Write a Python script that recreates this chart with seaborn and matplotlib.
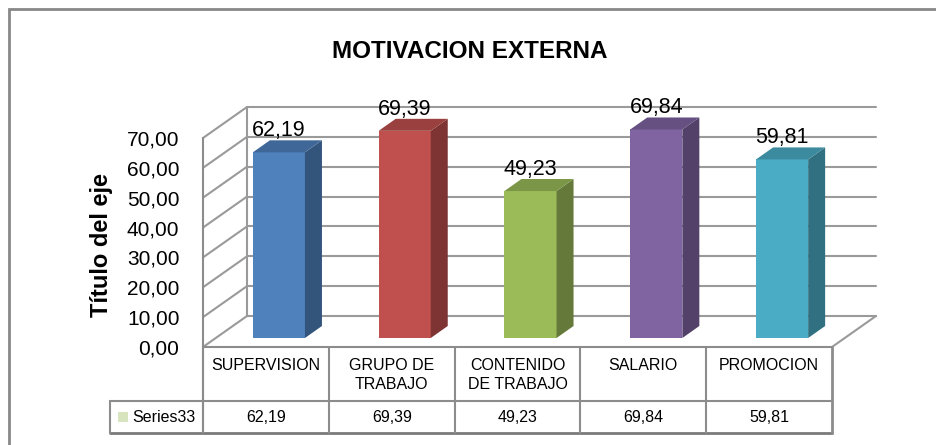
import numpy as np
import pandas as pd
import matplotlib
matplotlib.use("Agg")
import matplotlib.pyplot as plt
import seaborn as sns
from matplotlib.patches import Polygon, Rectangle
from matplotlib.lines import Line2D
import matplotlib.transforms as mtrans

# ---------------- data ----------------
categories = ["SUPERVISION", "GRUPO DE\nTRABAJO", "CONTENIDO\nDE TRABAJO", "SALARIO", "PROMOCION"]
values = [62.19, 69.39, 49.23, 69.84, 59.81]
value_labels = ["62,19", "69,39", "49,23", "69,84", "59,81"]
tick_values = [0, 10, 20, 30, 40, 50, 60, 70]
tick_labels = ["0,00", "10,00", "20,00", "30,00", "40,00", "50,00", "60,00", "70,00"]
series_name = "Series33"
title_text = "MOTIVACION EXTERNA"
ylabel_text = "Título del eje"
colors = ["#4F81BD", "#C0504D", "#9BBB59", "#8064A2", "#4BACC6"]

# ---------------- style ----------------
sns.set_style("white")
plt.rcParams["font.family"] = ["Liberation Sans", "DejaVu Sans"]
plt.rcParams["text.color"] = "black"
plt.rcParams["ytick.color"] = "black"
plt.rcParams["ytick.labelcolor"] = "black"

W, H = 937, 445
DPI = 100
fig = plt.figure(figsize=(W / DPI, H / DPI), dpi=DPI)
fig.patch.set_facecolor("white")

GRID = "#9a9a9a"
TABLE = "#8c8c8c"

# front plane geometry (image px)
X0, X1 = 203, 832
Y0, Y70 = 347, 138
ax = fig.add_axes([X0 / W, (H - Y0) / H, (X1 - X0) / W, (Y0 - Y70) / H])

df = pd.DataFrame({"cat": categories, "val": values})
sns.barplot(data=df, x="cat", y="val", hue="cat", palette=colors, legend=False,
            width=0.414, saturation=1, ax=ax, linewidth=0, zorder=3)
ax.set_xlim(-0.5, 4.5)
ax.set_ylim(0, 70)
for s in ax.spines.values():
    s.set_visible(False)
ax.set_xlabel("")
ax.set_ylabel("")
ax.set_xticks([])
ax.set_yticks(tick_values)
ax.set_yticklabels(tick_labels, fontsize=15, color="black")
ax.tick_params(axis="y", length=0, pad=17)
ax.patch.set_alpha(0)

# depth offsets in pixels
DEP = (44, 31)       # wall depth
SHIFT = (13, 9)      # bar position inside depth
BD = (17, 12)        # bar depth


def off(dx, dy):
    return mtrans.ScaledTranslation(dx / DPI, dy / DPI, fig.dpi_scale_trans)


def disp(x, y, dx=0, dy=0):
    p = ax.transData.transform((x, y))
    return (p[0] + dx, p[1] + dy)


def line_px(pts, **kw):
    xs = [p[0] for p in pts]
    ys = [p[1] for p in pts]
    fig.add_artist(Line2D(xs, ys, transform=mtrans.IdentityTransform(), **kw))


# back wall gridlines
for t in tick_values:
    ax.plot([-0.5, 4.5], [t, t], color=GRID, lw=1.5, zorder=1,
            transform=ax.transData + off(*DEP), clip_on=False)
    a = disp(-0.5, t)
    b = disp(-0.5, t, *DEP)
    line_px([a, b], color=GRID, lw=1.5, zorder=1)

line_px([disp(-0.5, 0, *DEP), disp(-0.5, 70, *DEP)], color=GRID, lw=1.5, zorder=1)
line_px([disp(-0.5, 70), (disp(-0.5, 0)[0], H - 433)], color=TABLE, lw=1.5, zorder=1)
line_px([disp(4.5, 0), disp(4.5, 0, *DEP)], color=GRID, lw=1.5, zorder=1)

# bars: shift + 3D faces
shift_t = ax.transData + off(*SHIFT)
for i, p in enumerate(ax.patches):
    p.set_transform(shift_t)
    p.set_clip_on(False)
    x, w, h = p.get_x(), p.get_width(), p.get_height()
    c = np.array(matplotlib.colors.to_rgb(colors[i]))
    A = shift_t.transform((x + w, 0))
    B = shift_t.transform((x + w, h))
    L = shift_t.transform((x, h))
    side = [A, B, (B[0] + BD[0], B[1] + BD[1]), (A[0] + BD[0], A[1] + BD[1])]
    top = [L, B, (B[0] + BD[0], B[1] + BD[1]), (L[0] + BD[0], L[1] + BD[1])]
    fig.add_artist(Polygon(side, closed=True, fc=c * 0.65, ec="none",
                           transform=mtrans.IdentityTransform(), zorder=4))
    fig.add_artist(Polygon(top, closed=True, fc=c * 0.8, ec="none",
                           transform=mtrans.IdentityTransform(), zorder=4))
    ax.annotate(value_labels[i], xy=(i, values[i]),
                xytext=(SHIFT[0] * 0.72, 20 * 0.72), textcoords="offset points",
                ha="center", va="bottom", fontsize=15.5, color="black", zorder=5,
                annotation_clip=False)

# ---------------- data table ----------------
def ypx(py):
    return H - py

hdr_top, hdr_bot, val_bot = 347, 401, 433
xs_bound = [disp(k - 0.5, 0)[0] for k in range(6)]
line_px([(xs_bound[0], ypx(hdr_top)), (xs_bound[-1], ypx(hdr_top))], color=TABLE, lw=1.5)
line_px([(110, ypx(hdr_bot)), (xs_bound[-1], ypx(hdr_bot))], color=TABLE, lw=1.5)
line_px([(110, ypx(val_bot)), (xs_bound[-1], ypx(val_bot))], color="#7a7a7a", lw=2)
for k, xb in enumerate(xs_bound):
    lw = 2 if k == 5 else 1.5
    line_px([(xb, ypx(hdr_top)), (xb, ypx(val_bot))], color=TABLE, lw=lw)
line_px([(110, ypx(hdr_bot)), (110, ypx(val_bot))], color=TABLE, lw=1.5)

for i, cat in enumerate(categories):
    cx = disp(i, 0)[0] / W
    fig.text(cx, 1 - 358 / H, cat, ha="center", va="top", fontsize=11.5,
             linespacing=1.3, color="black")
    fig.text(cx, 1 - 417 / H, value_labels[i], ha="center", va="center", fontsize=11.5,
             color="black")

fig.add_artist(Rectangle((118 / W, 1 - 422 / H), 10 / W, 10 / H, fc="#D7E4BD", ec="none",
                         transform=fig.transFigure))
fig.text(132 / W, 1 - 417 / H, series_name, ha="left", va="center", fontsize=11.5,
         color="black")

fig.text(470 / W, 1 - 51 / H, title_text, ha="center", va="center", fontsize=17.5,
         fontweight="bold", color="black")
fig.text(102 / W, 1 - 245 / H, ylabel_text, ha="center", va="center", fontsize=17,
         fontweight="bold", rotation=90, color="black")

fig.add_artist(Rectangle((9 / W, -0.1), 1.1, 1.1 - 9 / H, fill=False, ec="#888888", lw=2,
                         transform=fig.transFigure))

fig.savefig("out.png", dpi=DPI)
